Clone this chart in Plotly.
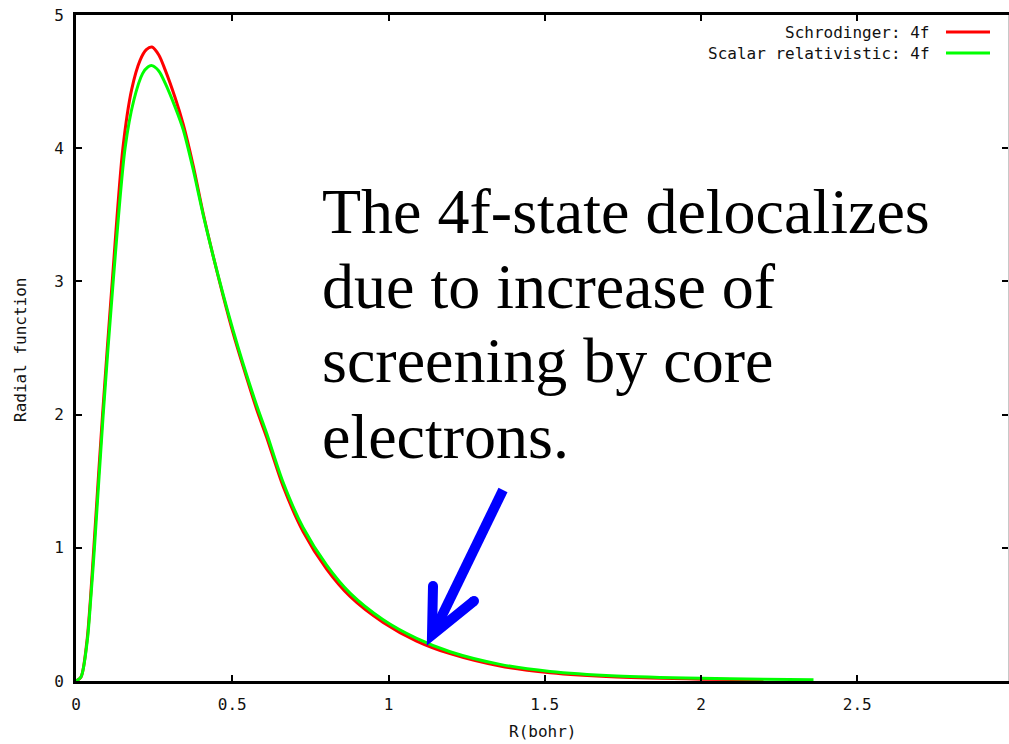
import plotly.graph_objects as go

# Radial 4f functions versus radius (bohr)
r_schrodinger = [0, 0.016, 0.035, 0.046, 0.057, 0.085, 0.116, 0.150, 0.178, 0.205, 0.225,
                 0.243, 0.265, 0.285, 0.317, 0.343, 0.375, 0.407, 0.439, 0.471, 0.503,
                 0.535, 0.578, 0.61, 0.663, 0.727, 0.802, 0.877, 0.983, 1.09, 1.197,
                 1.357, 1.517, 1.73, 2.0, 2.2]
p_schrodinger = [0, 0.03, 0.30, 0.61, 1.0, 2.0, 3.0, 4.0, 4.44, 4.66, 4.74,
                 4.76, 4.70, 4.59, 4.38, 4.18, 3.87, 3.51, 3.19, 2.89, 2.61,
                 2.36, 2.04, 1.83, 1.46, 1.12, 0.84, 0.635, 0.44, 0.30, 0.205,
                 0.112, 0.062, 0.030, 0.014, 0.009]

r_scalar_rel = [0, 0.016, 0.036, 0.047, 0.059, 0.087, 0.119, 0.157, 0.185, 0.213, 0.230,
                0.243, 0.265, 0.285, 0.317, 0.343, 0.375, 0.407, 0.439, 0.471, 0.503,
                0.535, 0.578, 0.61, 0.663, 0.727, 0.802, 0.877, 0.983, 1.09, 1.197,
                1.357, 1.517, 1.73, 2.0, 2.2, 2.36]
p_scalar_rel = [0, 0.03, 0.30, 0.61, 1.0, 2.0, 3.0, 4.0, 4.36, 4.56, 4.61,
                4.62, 4.58, 4.49, 4.31, 4.14, 3.84, 3.50, 3.19, 2.90, 2.63,
                2.38, 2.07, 1.86, 1.49, 1.15, 0.87, 0.66, 0.46, 0.32, 0.22,
                0.125, 0.072, 0.038, 0.02, 0.013, 0.01]

series_names = ["Schrodinger: 4f", "Scalar relativistic: 4f"]
series_colors = ["#ff0000", "#00ff00"]

x_ticks = [0, 0.5, 1, 1.5, 2, 2.5]
y_ticks = [0, 1, 2, 3, 4, 5]

note_lines = ["The 4f-state delocalizes", "due to increase of",
              "screening by core", "electrons."]

W, H = 1009, 744
L, R, T, B = 76, 1, 15, 63
PW, PH = W - L - R, H - T - B
X_MAX = PW / 312.5
Y_MAX = 5

def px(x):
    return (x - L) / PW

def py(y):
    return (H - B - y) / PH

mono = "DejaVu Sans Mono"
ink = "#111111"
small = dict(family=mono, size=16, color=ink)

fig = go.Figure()
for r, p, name, col in [(r_schrodinger, p_schrodinger, series_names[0], series_colors[0]),
                        (r_scalar_rel, p_scalar_rel, series_names[1], series_colors[1])]:
    fig.add_trace(go.Scatter(x=r, y=p, mode="lines", name=name,
                             line=dict(color=col, width=3, shape="spline", smoothing=0.8),
                             showlegend=False))

# invisible trace carrying the right-hand axis
fig.add_trace(go.Scatter(x=[0], y=[0], yaxis="y2", mode="markers",
                         marker=dict(opacity=0), showlegend=False, hoverinfo="skip"))

fig.update_layout(
    width=W, height=H,
    margin=dict(l=L, r=R, t=T, b=B),
    paper_bgcolor="white", plot_bgcolor="white",
    font=small,
    xaxis=dict(range=[0, X_MAX], tickvals=x_ticks, showgrid=False, zeroline=False,
               showline=True, linecolor="black", linewidth=3, mirror="ticks",
               ticks="inside", ticklen=6, tickwidth=2, tickcolor="black",
               tickfont=small, ticklabelstandoff=7),
    yaxis=dict(range=[0, Y_MAX], tickvals=y_ticks, showgrid=False, zeroline=False,
               showline=True, linecolor="black", linewidth=3,
               ticks="inside", ticklen=6, tickwidth=2, tickcolor="black",
               tickfont=small, ticklabelstandoff=6),
    yaxis2=dict(range=[0, Y_MAX], tickvals=y_ticks, overlaying="y", side="right",
                showgrid=False, zeroline=False, showticklabels=False,
                showline=True, linecolor="#c8c8c8", linewidth=1,
                ticks="inside", ticklen=6, tickwidth=2, tickcolor="black"),
)

ann = []
# axis titles
ann.append(dict(text="R(bohr)", x=px(542), y=py(732), xref="paper", yref="paper",
                xanchor="center", yanchor="middle", showarrow=False, font=small))
ann.append(dict(text="Radial function", x=px(20), y=py(350), xref="paper", yref="paper",
                xanchor="center", yanchor="middle", showarrow=False, textangle=-90,
                font=small))

# legend, text right-aligned with sample line to its right
shapes = []
for i, (name, col) in enumerate(zip(series_names, series_colors)):
    yy = 32 + 21 * i
    ann.append(dict(text=name, x=px(932), y=py(yy), xref="paper", yref="paper",
                    xanchor="right", yanchor="middle", showarrow=False, font=small))
    shapes.append(dict(type="line", xref="paper", yref="paper",
                       x0=px(946), x1=px(990), y0=py(yy), y1=py(yy),
                       line=dict(color=col, width=3)))

# explanatory note
for i, line in enumerate(note_lines):
    ann.append(dict(text=line, x=px(320), y=py(211 + 75 * i), xref="paper", yref="paper",
                    xanchor="left", yanchor="middle", showarrow=False,
                    font=dict(family="Liberation Serif", size=64, color="black")))

# blue arrow pointing at the tail
blue = "#0000ff"
shapes.append(dict(type="line", xref="paper", yref="paper",
                   x0=px(503), y0=py(490), x1=px(434), y1=py(632),
                   line=dict(color=blue, width=10)))
shapes.append(dict(type="path", xref="paper", yref="paper",
                   path=f"M {px(433)} {py(586)} L {px(432)} {py(635)} L {px(474)} {py(601)}",
                   line=dict(color=blue, width=10)))
for cx, cy in [(433, 586), (474, 601)]:
    shapes.append(dict(type="circle", xref="paper", yref="paper",
                       x0=px(cx - 5), x1=px(cx + 5), y0=py(cy - 5), y1=py(cy + 5),
                       fillcolor=blue, line=dict(width=0)))

fig.update_layout(annotations=ann, shapes=shapes)
fig.write_html("out.html")
